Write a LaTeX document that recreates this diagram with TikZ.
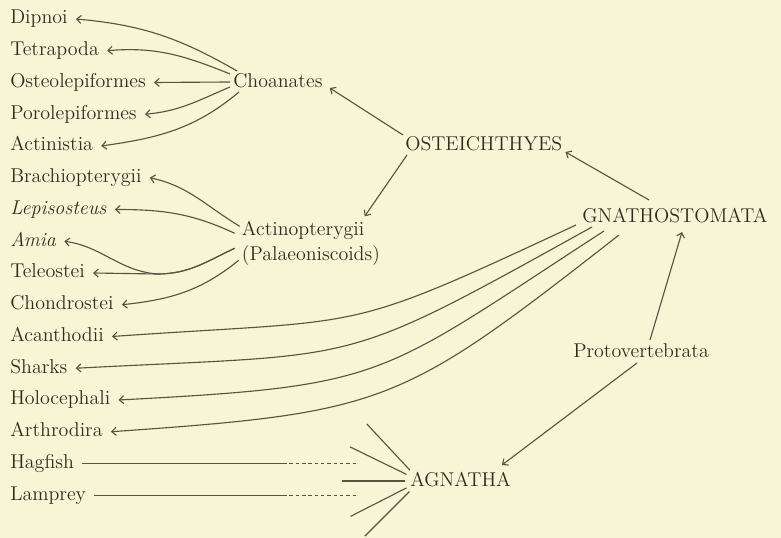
\documentclass[tikz,border=0pt]{standalone}
\usetikzlibrary{arrows.meta,calc}
\definecolor{paper}{RGB}{247,245,214}
\definecolor{ink}{RGB}{45,45,35}
\definecolor{lineink}{RGB}{85,85,68}
\begin{document}
\begin{tikzpicture}[x=0.025cm,y=0.025cm,
  font=\fontsize{14.2}{17.8}\selectfont, text=ink,
  >={Straight Barb[length=1.1mm,width=2mm]},
  link/.style={draw=lineink, line width=0.8pt},
  taxon/.style={anchor=base west, inner xsep=0.2cm, inner ysep=0pt,
    text height=0.35cm, text depth=0.1cm},
  group/.style={anchor=base west, inner sep=0pt},
  faded/.style={draw=lineink, line width=0.5pt, dash pattern=on 2.5pt off 2pt}]
\fill[paper] (0,0) rectangle (781,538);
\useasboundingbox (0,0) rectangle (781,538);

% column of taxa on the left
\node[taxon] (dipnoi)          at (2,514)    {Dipnoi};
\node[taxon] (tetrapoda)       at (2,482.25) {Tetrapoda};
\node[taxon] (osteolepiformes) at (2,450.5)  {Osteolepiformes};
\node[taxon] (porolepiformes)  at (2,418.75) {Porolepiformes};
\node[taxon] (actinistia)      at (2,387)    {Actinistia};
\node[taxon] (brachiopterygii) at (2,355.25) {Brachiopterygii};
\node[taxon] (lepisosteus)     at (2,323.5)  {\textit{Lepisosteus}};
\node[taxon] (amia)            at (2,291.75) {\textit{Amia}};
\node[taxon] (teleostei)       at (2,260)    {Teleostei};
\node[taxon] (chondrostei)     at (2,228.25) {Chondrostei};
\node[taxon] (acanthodii)      at (2,196.5)  {Acanthodii};
\node[taxon] (sharks)          at (2,164.75) {Sharks};
\node[taxon] (holocephali)     at (2,133)    {Holocephali};
\node[taxon] (arthrodira)      at (2,101.25) {Arthrodira};
\node[taxon] (hagfish)         at (2,69.5)   {Hagfish};
\node[taxon] (lamprey)         at (2,37.75)  {Lamprey};

% groups
\node[group] (choanates)       at (233,450) {Choanates};
\node[group] (osteichthyes)    at (405,387) {OSTEICHTHYES};
\node[group, anchor=north west, align=left] (actino) at (241.7,316.7)
  {Actinopterygii\\(Palaeoniscoids)};
\node[group] (gnathostomata)   at (582,315) {GNATHOSTOMATA};
\node[group] (protovertebrata) at (573,180) {Protovertebrata};
\node[group] (agnatha)         at (410,51)  {AGNATHA};

\coordinate (fork) at (157,264);  % Amia and Teleostei split here
\coordinate (gap)  at (283,0);    % solid line turns dashed
\coordinate (tail) at (357,0);    % end of the dashed lines
\coordinate (hub)  at ($(agnatha.base west)+(10,6)$);

% Choanates
\draw[link,->] ($(choanates.base west)+(4,17)$) to[out=150,in=-5] (dipnoi.east);
\draw[link,->] ($(choanates.base west)+(-3,14)$) to[out=158,in=5] (tetrapoda.east);
\draw[link,->] ($(choanates.base west)+(-3,6)$) -- (osteolepiformes.east);
\draw[link,->] ($(choanates.base west)+(-3,1)$) to[out=203,in=5] (porolepiformes.east);
\draw[link,->] ($(choanates.base west)+(6,-4)$) to[out=220,in=8] (actinistia.east);

% Actinopterygii
\draw[link,->] ($(actino.north west)+(-2,-5)$) to[out=149,in=-12] (brachiopterygii.east);
\draw[link,->] ($(actino.north west)+(-7,-12)$) to[out=155,in=0] (lepisosteus.east);
\draw[link,->] ($(actino.north west)+(-7,-27)$) to[out=205,in=0] (fork) -- (teleostei.east);
\draw[link,->] ($(actino.north west)+(-7,-27)$) to[out=205,in=0] (fork)
  to[out=175,in=-8] (amia.east);
\draw[link,->] ($(actino.north west)+(-3,-39)$) to[out=219,in=6] (chondrostei.east);

% Osteichthyes
\draw[link,->] ($(osteichthyes.base west)+(-2,16)$) -- ($(choanates.base east)+(7,0)$);
\draw[link,->] ($(osteichthyes.base west)+(2,-4)$) -- ($(actino.north west)+(123,5)$);

% Gnathostomata
\draw[link,->] ($(gnathostomata.base west)+(67,23)$) -- ($(osteichthyes.base east)+(3,-1)$);
\draw[link,->] ($(gnathostomata.base west)+(-6,-2)$) to[out=205,in=4,looseness=1.4] (acanthodii.east);
\draw[link,->] ($(gnathostomata.base west)+(10,-4)$) to[out=209,in=3,looseness=1.4] (sharks.east);
\draw[link,->] ($(gnathostomata.base west)+(22,-8)$) to[out=213,in=3,looseness=1.35] (holocephali.east);
\draw[link,->] ($(gnathostomata.base west)+(37,-12)$) to[out=218,in=4,looseness=1.3] (arthrodira.east);

% Protovertebrata
\draw[link,->] ($(protovertebrata.base west)+(77,18)$) -- ($(gnathostomata.base west)+(100,-9)$);
\draw[link,->] ($(protovertebrata.base west)+(64,-5)$) -- ($(agnatha.base west)+(92,22)$);

% Agnatha
\foreach \a in {133,154,180,207,225}
  \draw[link] (hub) ++(\a:15) -- ++(\a:63);
\draw[link] (hagfish.east) -- (hagfish.east -| gap);
\draw[faded] (hagfish.east -| gap) -- (hagfish.east -| tail);
\draw[link] (lamprey.east) -- (lamprey.east -| gap);
\draw[faded] (lamprey.east -| gap) -- (lamprey.east -| tail);

\end{tikzpicture}
\end{document}
